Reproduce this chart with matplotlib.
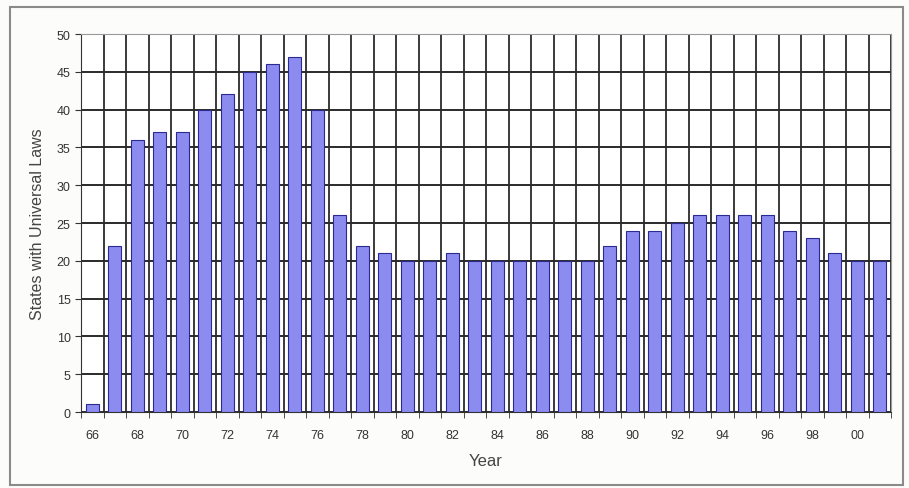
import matplotlib
matplotlib.use("Agg")
import matplotlib.pyplot as plt
from matplotlib.patches import Rectangle
from matplotlib.ticker import FixedLocator, MultipleLocator

plt.rcParams['font.family'] = ['Liberation Sans', 'DejaVu Sans']

years = ['66', '67', '68', '69', '70', '71', '72', '73', '74', '75', '76', '77',
         '78', '79', '80', '81', '82', '83', '84', '85', '86', '87', '88', '89',
         '90', '91', '92', '93', '94', '95', '96', '97', '98', '99', '00', '01']
states = [1, 22, 36, 37, 37, 40, 42, 45, 46, 47, 40, 26,
          22, 21, 20, 20, 21, 20, 20, 20, 20, 20, 20, 22,
          24, 24, 25, 26, 26, 26, 26, 24, 23, 21, 20, 20]

fig = plt.figure(figsize=(9.09, 4.89), dpi=100)
fig.patch.set_facecolor('#fcfcfa')
fig.patches.append(Rectangle((10/909, 1-486/489), 893/909, 478/489,
                             transform=fig.transFigure, fill=False,
                             edgecolor='#8a8a8a', linewidth=1.5))

ax = fig.add_axes([81/909, 1-413/489, 810/909, 378/489])
ax.set_facecolor('white')
x = list(range(len(years)))
ax.bar(x, states, width=0.58, color='#8c8cf0', edgecolor='#2a2a90',
       linewidth=0.8, zorder=3)

ax.set_xlim(-0.5, len(years) - 0.5)
ax.set_ylim(0, 50)
ax.yaxis.set_major_locator(MultipleLocator(5))
ax.set_xticks(x[::2])
ax.set_xticklabels(years[::2])
ax.xaxis.set_minor_locator(FixedLocator([i + 0.5 for i in range(-1, len(years))]))
ax.grid(which='minor', axis='x', color='#3a3a3a', linewidth=1.4, zorder=1)
ax.grid(which='major', axis='y', color='#2a2a2a', linewidth=1.4, zorder=1)
ax.tick_params(axis='x', which='major', length=0, labelsize=9, colors='#333333', pad=12)
ax.tick_params(axis='x', which='minor', length=4, color='#333333')
ax.tick_params(axis='y', labelsize=9, colors='#333333', length=4)
for s in ['top', 'right']:
    ax.spines[s].set_color('#9a9a9a')
for s in ['left', 'bottom']:
    ax.spines[s].set_color('#333333')

ax.set_xlabel('Year', fontsize=12, color='#444444', labelpad=9)
ax.set_ylabel('States with Universal Laws', fontsize=11.5, color='#444444', labelpad=8)

fig.savefig('out.png', dpi=100, facecolor=fig.get_facecolor())
